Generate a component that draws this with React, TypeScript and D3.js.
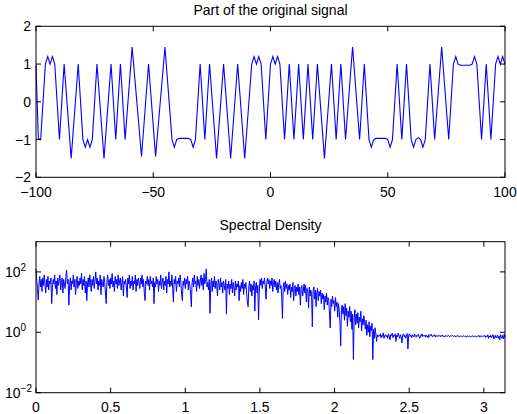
import React from "react";
import { scaleLinear, scaleLog, line } from "d3";

// top panel: signal vertices (sample index, value)
const sigN = [
  -100, -99, -98, -96, -95, -94, -93, -92, -90, -88, -85, -82, -80, -79, -78, -77, -76, -74, -71, -68,
  -66, -64, -62, -59, -55, -52, -49, -45, -42, -41, -40, -39, -35, -34, -33, -32, -30, -28, -26, -23,
  -20, -17, -14, -11, -8, -7, -6, -5, -4, -2, 0, 1, 2, 3, 4, 6, 8, 10, 12, 14,
  16, 18, 20, 23, 26, 28, 30, 32, 35, 38, 40, 42, 43, 44, 45, 49, 50, 51, 52, 54,
  56, 58, 60, 61, 62, 63, 64, 65, 66, 68, 70, 73, 76, 78, 79, 80, 81, 85, 86, 87,
  88, 90, 92, 94, 96, 97, 98, 99, 100,
];
const sigV = [
  0.97, -0.97, -1.0, 1.0, 1.2, 1.0, 1.2, 1.0, -1.0, 1.0, -1.5, 1.0, -1.0, -1.2, -1.0, -1.2, -1.0, 1.0, -1.5, 1.0,
  -1.0, 1.0, -1.0, 1.45, -1.45, 1.0, -1.45, 1.45, -1.0, -1.2, -1.0, -0.97, -0.97, -1.0, -1.2, -1.0, 1.0, -1.0, 1.0, -1.5,
  1.0, -1.5, 1.0, -1.5, 1.0, 1.2, 1.0, 1.2, 1.0, -1.0, 1.0, 1.2, 1.0, 1.2, 1.0, -1.0, 1.0, -1.0, 1.0, -1.0,
  1.0, -1.0, 1.0, -1.5, 1.0, -1.0, 1.0, -1.0, 1.45, -1.0, 1.0, -1.0, -1.2, -1.0, -0.97, -0.97, -1.0, -1.2, -1.0, 1.0,
  -1.0, 1.0, -1.0, -1.2, -1.0, -0.95, -1.0, -1.2, -1.0, 1.0, -1.0, 1.45, -1.0, 1.0, 1.2, 1.0, 0.97, 0.97, 1.0, 1.2,
  1.0, -1.0, 1.0, -1.0, 1.0, 1.2, 1.0, 1.2, 1.0,
];

// bottom panel: spectral density, log10 values, evenly spread over 0..pi
const psdLog = [
  2.1, 1.7, 1.45, 1.07, 1.6, 1.85, 1.5, 1.75, 1.35, 1.8,
  1.55, 1.9, 1.6, 1.3, 1.75, 1.5, 1.85, 1.4, 1.7, 1.6,
  1.8, 0.95, 1.5, 1.75, 1.6, 1.9, 1.45, 1.7, 1.25, 1.8,
  1.55, 1.7, 1.9, 1.4, 1.65, 1.8, 1.3, 1.75, 1.6, 1.45,
  1.85, 2.05, 1.6, 1.75, 0.9, 1.55, 1.8, 1.4, 1.7, 1.6,
  1.9, 1.5, 1.75, 1.25, 1.65, 1.85, 1.45, 1.7, 1.55, 1.8,
  1.6, 1.95, 1.4, 1.75, 1.55, 1.85, 1.3, 1.7, 1.05, 1.6,
  1.8, 1.5, 1.9, 1.65, 1.35, 1.75, 1.55, 1.85, 1.45, 1.7,
  2.0, 1.6, 1.8, 1.4, 1.7, 1.55, 1.9, 1.25, 1.75, 1.6,
  1.5, 1.85, 1.65, 1.3, 0.95, 1.7, 1.9, 1.55, 1.75, 1.45,
  1.8, 1.6, 1.95, 1.5, 1.7, 1.35, 1.85, 1.6, 1.75, 1.45,
  1.9, 1.55, 1.7, 1.8, 1.4, 1.65, 1.85, 1.2, 1.7, 1.6,
  1.75, 1.5, 1.15, 1.8, 1.6, 1.9, 1.45, 1.7, 1.55, 1.85,
  1.4, 1.7, 1.6, 1.9, 1.35, 1.75, 1.55, 1.8, 1.65, 1.45,
  1.8, 1.6, 1.9, 1.5, 1.75, 1.3, 1.05, 1.7, 1.6, 1.85,
  1.55, 1.75, 1.4, 1.85, 1.6, 1.7, 1.5, 1.8, 0.95, 1.65,
  1.5, 1.85, 1.6, 1.75, 1.35, 1.7, 1.55, 1.9, 1.45, 1.65,
  1.8, 1.4, 1.7, 1.55, 1.85, 1.3, 1.75, 1.6, 2.0, 1.5,
  1.7, 1.55, 1.9, 1.45, 1.0, 1.75, 1.6, 1.85, 1.35, 1.7,
  1.6, 1.8, 1.5, 1.9, 1.65, 1.25, 1.05, 1.7, 1.55, 1.8,
  1.45, 1.75, 1.6, 1.85, 1.4, 1.7, 1.55, 1.3, 0.84, 1.65,
  1.8, 1.5, 1.9, 1.6, 1.7, 1.35, 1.85, 1.55, 1.75, 1.45,
  1.7, 1.9, 1.55, 1.8, 1.4, 1.95, 1.6, 1.75, 2.1, 1.5,
  1.65, 1.4, 1.75, 0.63, 1.55, 1.8, 1.35, 1.7, 1.5, 1.85,
  1.45, 1.7, 1.55, 1.2, 1.75, 1.6, 1.4, 1.8, 1.5, 1.65,
  1.3, 1.7, 1.55, 1.4, 1.75, 0.6, 1.6, 1.45, 1.7, 1.25,
  1.6, 1.45, 1.75, 1.3, 1.65, 1.5, 1.2, 1.7, 1.4, 1.6,
  1.5, 1.7, 1.05, 1.55, 1.35, 1.65, 1.45, 1.75, 1.25, 1.6,
  1.45, 1.65, 1.3, 1.0, 0.85, 1.5, 1.7, 1.35, 1.6, 1.2,
  1.55, 1.4, 1.7, 0.7, 1.5, 1.65, 1.3, 1.55, 0.41, 1.4,
  1.75, 1.55, 1.8, 1.45, 1.7, 1.6, 1.8, 1.5, 1.1, 1.65,
  1.8, 1.6, 1.75, 1.45, 1.7, 1.55, 1.8, 1.35, 1.65, 1.75,
  1.5, 1.7, 1.4, 1.65, 1.3, 1.6, 1.75, 1.45, 1.55, 1.2,
  0.46, 1.5, 1.65, 1.35, 1.7, 1.45, 1.6, 1.25, 1.55, 1.4,
  1.6, 1.15, 1.5, 1.35, 1.65, 1.05, 1.45, 1.55, 1.2, 1.5,
  1.35, 1.6, 1.25, 1.5, 0.9, 1.45, 1.55, 1.2, 1.4, 1.6,
  1.3, 1.55, 1.0, 1.45, 1.35, 0.8, 1.5, 1.2, 1.4, 1.25,
  0.18, 1.35, 1.5, 1.1, 1.4, 0.85, 1.3, 1.45, 1.05, 1.35,
  1.2, 1.4, 0.95, 1.3, 1.1, 1.25, 0.75, 1.2, 1.0, 1.3,
  0.9, 1.15, 1.05, 0.6, 0.14, 1.1, 0.85, 1.2, 0.95, 1.05,
  0.7, 1.15, 0.85, 1.0, 0.5, 0.95, 0.75, 0.3, -0.45, 0.8,
  0.9, 0.6, 0.85, 0.4, 0.95, 0.55, 0.8, 0.2, 0.7, 0.5,
  0.85, 0.35, 0.7, 0.1, 0.6, -0.9, 0.45, 0.75, 0.25, 0.6,
  0.3, 0.65, 0.15, 0.5, 0.35, 0.7, 0.05, 0.45, 0.25, 0.55,
  0.35, 0.1, 0.4, -0.1, 0.25, 0.0, 0.35, -0.15, 0.2, 0.05,
  0.3, -0.9, 0.1, -0.2, 0.15, -0.05, -0.3, -0.08, -0.15, -0.1,
  -0.12, -0.05, -0.18, -0.1, -0.14, -0.02, -0.2, -0.1, -0.08, -0.15,
  -0.1, -0.2, -0.05, -0.13, -0.25, -0.08, -0.12, -0.03, -0.18, -0.1,
  -0.12, -0.05, -0.3, -0.1, -0.15, -0.02, -0.12, -0.2, -0.08, -0.15,
  -0.35, -0.1, -0.05, -0.15, -0.1, -0.2, -0.12, -0.04, -0.55, -0.1,
  -0.05, -0.14, -0.1, -0.18, -0.08, -0.12, -0.15, -0.06, -0.11, -0.16,
  -0.1, -0.13, -0.07, -0.15, -0.2, -0.1, -0.12, -0.05, -0.14, -0.11,
  -0.13, -0.09, -0.16, -0.1, -0.12, -0.18, -0.08, -0.14, -0.11, -0.06,
  -0.12, -0.15, -0.1, -0.13, -0.08, -0.16, -0.12, -0.1, -0.14, -0.11,
  -0.13, -0.1, -0.15, -0.12, -0.09, -0.14, -0.12, -0.16, -0.11, -0.13,
  -0.12, -0.14, -0.1, -0.13, -0.15, -0.11, -0.13, -0.12, -0.1, -0.14,
  -0.13, -0.11, -0.15, -0.12, -0.14, -0.1, -0.13, -0.16, -0.12, -0.14,
  -0.12, -0.15, -0.13, -0.11, -0.14, -0.12, -0.16, -0.13, -0.12, -0.15,
  -0.13, -0.12, -0.15, -0.14, -0.11, -0.13, -0.16, -0.12, -0.14, -0.13,
  -0.15, -0.12, -0.14, -0.1, -0.16, -0.13, -0.11, -0.15, -0.13, -0.12,
  -0.14, -0.1, -0.17, -0.12, -0.15, -0.08, -0.2, -0.12, -0.16, -0.1,
  -0.18, -0.12, -0.08, -0.22, -0.13, -0.1, -0.19, -0.14, -0.09, -0.2,
  -0.12, -0.25, -0.08, -0.15, -0.2, -0.1, -0.22, -0.06, -0.18,
];

const topXTicks = [-100, -50, 0, 50, 100];
const topYTicks = [-2, -1, 0, 1, 2];
const botXTicks = [0, 0.5, 1, 1.5, 2, 2.5, 3];
const botYExps = [-2, 0, 2];

const W = 517;
const H = 414;
const L = 36;
const R = 505;
const font = "'Liberation Sans', Arial, Helvetica, sans-serif";
const fmt = (v: number) => String(v).replace("-", "\u2212");

export default function App() {
  const x1 = scaleLinear().domain([-100, 100]).range([L, R]);
  const y1 = scaleLinear().domain([-2, 2]).range([177.3, 26.3]);
  const x2 = scaleLinear().domain([0, Math.PI]).range([L, R]);
  const y2 = scaleLog().domain([1e-2, 1e3]).range([392.7, 241.7]);

  const sig = sigN.map((n, i) => [n, sigV[i]] as [number, number]);
  const step = Math.PI / (psdLog.length - 1);
  const psd = psdLog.map((v, i) => [i * step, Math.pow(10, v)] as [number, number]);

  const sigPath = line<[number, number]>().x((d) => x1(d[0])).y((d) => y1(d[1]))(sig);
  const psdPath = line<[number, number]>().x((d) => x2(d[0])).y((d) => y2(d[1]))(psd);

  const tk = 5;
  const fs = 14;

  return (
    <svg width={W} height={H} style={{ position: "absolute", left: 0, top: 0, background: "#fff" }} fontFamily={font}>
      {/* top panel */}
      <text x={(L + R) / 2} y={15} textAnchor="middle" fontSize={fs}>Part of the original signal</text>
      <path d={sigPath || ""} fill="none" stroke="#0000ff" strokeWidth={1.1} />
      <rect x={L} y={26.3} width={R - L} height={177.3 - 26.3} fill="none" stroke="#000" strokeWidth={1} />
      {topXTicks.map((t) => (
        <g key={"tx" + t}>
          <line x1={x1(t)} x2={x1(t)} y1={177.3} y2={177.3 - tk} stroke="#000" />
          <line x1={x1(t)} x2={x1(t)} y1={26.3} y2={26.3 + tk} stroke="#000" />
          <text x={x1(t)} y={197} textAnchor="middle" fontSize={fs}>{fmt(t)}</text>
        </g>
      ))}
      {topYTicks.map((t) => (
        <g key={"ty" + t}>
          <line x1={L} x2={L + tk} y1={y1(t)} y2={y1(t)} stroke="#000" />
          <line x1={R} x2={R - tk} y1={y1(t)} y2={y1(t)} stroke="#000" />
          <text x={31} y={y1(t) + 5} textAnchor="end" fontSize={fs}>{fmt(t)}</text>
        </g>
      ))}

      {/* bottom panel */}
      <text x={(L + R) / 2} y={230} textAnchor="middle" fontSize={fs}>Spectral Density</text>
      <path d={psdPath || ""} fill="none" stroke="#0000ff" strokeWidth={1} />
      <rect x={L} y={241.7} width={R - L} height={392.7 - 241.7} fill="none" stroke="#000" strokeWidth={1} />
      {botXTicks.map((t) => (
        <g key={"bx" + t}>
          <line x1={x2(t)} x2={x2(t)} y1={392.7} y2={392.7 - tk} stroke="#000" />
          <line x1={x2(t)} x2={x2(t)} y1={241.7} y2={241.7 + tk} stroke="#000" />
          <text x={x2(t)} y={412} textAnchor="middle" fontSize={fs}>{String(t)}</text>
        </g>
      ))}
      {botYExps.map((e) => (
        <g key={"by" + e}>
          <line x1={L} x2={L + tk} y1={y2(Math.pow(10, e))} y2={y2(Math.pow(10, e))} stroke="#000" />
          <line x1={R} x2={R - tk} y1={y2(Math.pow(10, e))} y2={y2(Math.pow(10, e))} stroke="#000" />
          <text x={5} y={y2(Math.pow(10, e)) + 5} fontSize={fs}>
            10
            <tspan dy={-6} fontSize={10}>{fmt(e)}</tspan>
          </text>
        </g>
      ))}
    </svg>
  );
}
